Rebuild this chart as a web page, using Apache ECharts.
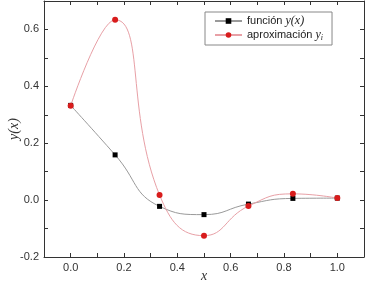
<!DOCTYPE html>
<html>
<head>
<meta charset="utf-8">
<script src="https://cdn.jsdelivr.net/npm/echarts@6/dist/echarts.min.js"></script>
<style>html,body{margin:0;padding:0;background:#fff}#c{width:366px;height:282px}</style>
</head>
<body>
<div id="c"></div>
<script>
var xValues = [0, 1/6, 1/3, 0.5, 2/3, 5/6, 1];
var funcY = [0.333, 0.159, -0.022, -0.051, -0.014, 0.006, 0.007];
var approxY = [0.332, 0.634, 0.018, -0.125, -0.021, 0.022, 0.007];
var seriesNames = ['función', 'aproximación'];
var xTickLabels = ['0.0', '0.2', '0.4', '0.6', '0.8', '1.0'];
var yTickLabels = ['-0.2', '0.0', '0.2', '0.4', '0.6'];

function pairs(xs, ys) { return xs.map(function (x, i) { return [x, ys[i]]; }); }
function lab(list) {
  return function (v) {
    var s = (Math.round(v * 10) / 10).toFixed(1);
    if (s === '-0.0') s = '0.0';
    return list.indexOf(s) >= 0 ? s : '';
  };
}
var axisLineStyle = { color: '#333', width: 1 };
var chart = echarts.init(document.getElementById('c'));
chart.setOption({
  animation: false,
  backgroundColor: '#fff',
  textStyle: { fontFamily: 'Liberation Sans', fontSize: 11, color: '#333' },
  grid: { left: 44, right: 2, top: 1, bottom: 25, containLabel: false, outerBoundsMode: 'none' },
  xAxis: [{
    type: 'value', min: -0.1, max: 1.1, interval: 0.1, position: 'bottom',
    axisLine: { onZero: false, lineStyle: axisLineStyle },
    axisTick: { inside: true, length: 4, lineStyle: axisLineStyle },
    axisLabel: { formatter: lab(xTickLabels), margin: 5, color: '#333', fontSize: 11, showMinLabel: true, showMaxLabel: true },
    splitLine: { show: false },
    name: 'x', nameLocation: 'middle', nameGap: 12, nameMoveOverlap: false,
    nameTextStyle: { fontFamily: 'Liberation Serif', fontStyle: 'italic', fontSize: 14, color: '#333' }
  }, {
    type: 'value', min: -0.1, max: 1.1, interval: 0.1, position: 'top',
    axisLine: { onZero: false, lineStyle: axisLineStyle },
    axisTick: { inside: true, length: 4, lineStyle: axisLineStyle },
    axisLabel: { show: false }, splitLine: { show: false }
  }],
  yAxis: [{
    type: 'value', min: -0.2, max: 0.7, interval: 0.1, position: 'left',
    axisLine: { show: true, onZero: false, lineStyle: axisLineStyle },
    axisTick: { show: true, inside: true, length: 4, lineStyle: axisLineStyle },
    axisLabel: { formatter: lab(yTickLabels), margin: 5, color: '#333', fontSize: 11 },
    splitLine: { show: false },
    name: 'y(x)', nameLocation: 'middle', nameGap: 23, nameRotate: 90, nameMoveOverlap: false,
    nameTextStyle: { fontFamily: 'Liberation Serif', fontStyle: 'italic', fontSize: 14, color: '#333' }
  }, {
    type: 'value', min: -0.2, max: 0.7, interval: 0.1, position: 'right',
    axisLine: { show: true, onZero: false, lineStyle: axisLineStyle },
    axisTick: { show: true, inside: true, length: 4, lineStyle: axisLineStyle },
    axisLabel: { show: false }, splitLine: { show: false }
  }],
  legend: {
    orient: 'vertical', left: 205, top: 12,
    backgroundColor: '#fff', borderColor: '#888', borderWidth: 1, borderRadius: 0,
    padding: [3, 9, 3, 9], itemGap: 2, itemWidth: 27, itemHeight: 7,
    data: seriesNames,
    formatter: function (n) {
      return n === seriesNames[0] ? 'función {i|y(x)}' : 'aproximación {i|y}{s|i}';
    },
    textStyle: {
      fontFamily: 'Liberation Sans', fontSize: 11, color: '#222',
      rich: {
        i: { fontFamily: 'Liberation Serif', fontStyle: 'italic', fontSize: 12, color: '#222' },
        s: { fontFamily: 'Liberation Serif', fontStyle: 'italic', fontSize: 8, color: '#222', verticalAlign: 'bottom', padding: [6, 0, 0, 0] }
      }
    }
  },
  series: [{
    name: seriesNames[0], type: 'line', smooth: 0.5,
    data: pairs(xValues, funcY),
    symbol: 'rect', symbolSize: 5,
    itemStyle: { color: '#000' },
    lineStyle: { color: '#9a9a9a', width: 1 }
  }, {
    name: seriesNames[1], type: 'line', smooth: 0.5,
    data: pairs(xValues, approxY),
    symbol: 'circle', symbolSize: 6,
    itemStyle: { color: '#d81c1c' },
    lineStyle: { color: '#e8a0a6', width: 1 }
  }]
});
</script>
</body>
</html>
